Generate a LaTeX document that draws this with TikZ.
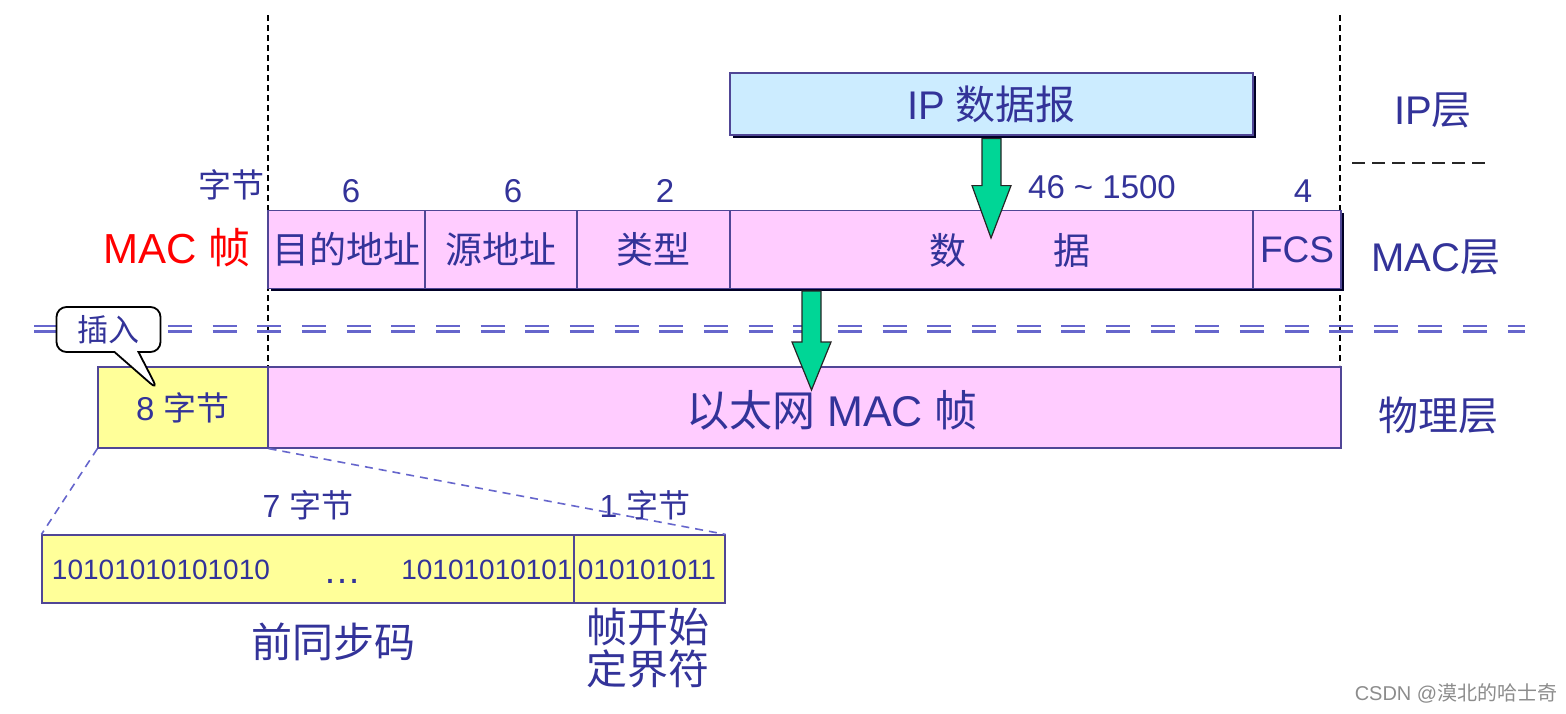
\documentclass[tikz,border=0pt]{standalone}
\usepackage{fontspec}
\setmainfont{Liberation Sans}
\newfontfamily\cjk{Noto Sans CJK SC}
\newcommand\zh[1]{{\cjk #1}}
\usetikzlibrary{calc,shadows,shapes.callouts}

\definecolor{ink}{RGB}{51,51,153}
\definecolor{edge}{RGB}{80,70,150}
\definecolor{framepink}{RGB}{255,204,255}
\definecolor{padyellow}{RGB}{255,255,153}
\definecolor{ipblue}{RGB}{204,236,255}
\definecolor{arrowgreen}{RGB}{0,214,150}
\definecolor{dashblue}{RGB}{102,102,204}

\tikzset{
	cell/.style={draw=edge, line width=0.6pt, inner sep=0pt, minimum height=39pt, text=ink, font=\fontsize{18.5}{22}\selectfont},
	shadowed/.style={general shadow={fill=black!85!blue, shadow xshift=1.4pt, shadow yshift=-1.4pt}},
	label/.style={text=ink, inner sep=1pt, font=\fontsize{20}{24}\selectfont},
	size/.style={text=ink, inner sep=1pt, font=\fontsize{16.5}{20}\selectfont},
	bits/.style={text=ink, inner sep=0pt, anchor=base, font=\fontsize{14}{17}\selectfont},
	blockarrow/.style={fill=arrowgreen, draw=black!85, line width=0.6pt, line join=miter},
	guide/.style={black, line width=0.6pt, dash pattern=on 3pt off 2pt},
	rail/.style={dashblue, line width=1.1pt, dash pattern=on 12pt off 10.33pt},
	zoomline/.style={dashblue, line width=0.8pt, dash pattern=on 4pt off 3pt}
}

\begin{document}
\begin{tikzpicture}[x=0.5pt, y=-0.5pt]
	\useasboundingbox (0,0) rectangle (1566,713);
	% layer borders
	\draw[guide] (268,15) -- (268,367);
	\draw[guide] (1340,15) -- (1340,365);
	\draw[black!85, line width=1pt, dash pattern=on 6.5pt off 3.5pt] (1352,163) -- (1485,163);
	\draw[rail] (34,326) -- (1525,326);
	\draw[rail] (34,331.5) -- (1525,331.5);

	% IP datagram
	\node[shadowed, draw=edge, fill=ipblue, line width=0.6pt, minimum width=261.5pt, minimum height=31pt, label, inner sep=0pt] (ip) at (991.5,104) {IP \zh{数据报}};

	% MAC frame
	\node[shadowed, fill=framepink, minimum width=536.5pt, minimum height=39pt, inner sep=0pt] (macrow) at (804.5,249.5) {};
	\node[cell, minimum width=78.5pt] (dst) at (346.5,249.5) {\zh{目的地址}};
	\node[cell, minimum width=76pt] (src) at (501,249.5) {\zh{源地址}};
	\node[cell, minimum width=76.5pt] (type) at (653.5,249.5) {\zh{类型}};
	\node[cell, minimum width=261.5pt] (data) at (991.5,249.5) {};
	\node[cell, minimum width=44pt] (fcs) at (1297,249.5) {FCS};
	\node[cell, draw=none] (dataL) at (948,250) {\zh{数}};
	\node[cell, draw=none] (dataR) at (1072,250) {\zh{据}};

	% physical layer
	\node[cell, fill=padyellow, minimum width=85pt, minimum height=40.5pt, font=\fontsize{16.5}{20}\selectfont] (pad) at (183,407.5) {8 \zh{字节}};
	\node[cell, fill=framepink, minimum width=536.5pt, minimum height=40.5pt] (eth) at (804.5,407.5) {};
	\node[label, font=\fontsize{21.5}{25}\selectfont] (ethText) at (832,410) {\zh{以太网} MAC \zh{帧}};

	% preamble
	\node[cell, fill=padyellow, minimum width=266pt, minimum height=34pt] (sync) at (308,569) {};
	\node[cell, fill=padyellow, minimum width=75.5pt, minimum height=34pt] (sfd) at (649.5,569) {};
	\node[bits] (bitsA) at (161,579) {10101010101010};
	\node[bits, font=\fontsize{19}{22}\selectfont] (dots) at (342,583) {\ldots};
	\node[bits] (bitsB) at (487,579) {10101010101};
	\node[bits] (bitsC) at (647,579) {010101011};
	\draw[zoomline] (pad.south west) -- (sync.north west);
	\draw[zoomline] (pad.south east) -- (sfd.north east);

	% arrows
	\coordinate (tipA) at (991,238);
	\draw[blockarrow] ($(ip.south)+(-9.5,3)$) -- ++(0,47) -- ++(-10,0) -- (tipA) -- ($(ip.south)+(19.5,50)$) -- ++(-10,0) -- ($(ip.south)+(9.5,3)$) -- cycle;
	\coordinate (dropB) at (811.5,291);
	\coordinate (tipB) at (811.5,390);
	\draw[blockarrow] ($(dropB)+(-9.5,0)$) -- ++(0,51) -- ++(-10,0) -- (tipB) -- ($(dropB)+(19.5,51)$) -- ++(-10,0) -- ($(dropB)+(9.5,0)$) -- cycle;

	% insert callout
	\node[rectangle callout, rounded corners=5pt, draw=black, fill=white, line width=0.9pt, minimum width=52pt, minimum height=22.5pt, callout absolute pointer={(158,390)}, callout pointer width=12pt, text=ink, font=\fontsize{15.5}{18}\selectfont] (ins) at (108.5,329.5) {\zh{插入}};

	% labels
	\node[size, anchor=east] (unit) at (267,185) {\zh{字节}};
	\node[size] (nDst) at (351,191) {6};
	\node[size] (nSrc) at (513,191) {6};
	\node[size] (nType) at (665,191) {2};
	\node[size] (nData) at (1102,187) {46 \textasciitilde{} 1500};
	\node[size] (nFcs) at (1303,191) {4};
	\node[label, text=red, font=\fontsize{21}{25}\selectfont] (mac) at (177,248) {MAC \zh{帧}};
	\node[label] (ipLayer) at (1433,110) {IP\zh{层}};
	\node[label] (macLayer) at (1436,257) {MAC\zh{层}};
	\node[label] (phyLayer) at (1438,415) {\zh{物理层}};
	\node[size, font=\fontsize{16}{19}\selectfont] (seven) at (308,505) {7 \zh{字节}};
	\node[size, font=\fontsize{16}{19}\selectfont] (one) at (645,505) {1 \zh{字节}};
	\node[label, font=\fontsize{20.5}{24}\selectfont] (preamble) at (333,642) {\zh{前同步码}};
	\node[label, font=\fontsize{20.5}{21}\selectfont, align=center] (delim) at (648,648) {\zh{帧开始}\\\zh{定界符}};
	\node[text=black!45, font=\fontsize{10}{12}\selectfont] (mark) at (1456,693) {CSDN @\zh{漠北的哈士奇}};
\end{tikzpicture}
\end{document}
